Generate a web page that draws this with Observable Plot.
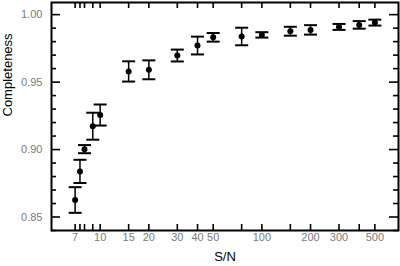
<!DOCTYPE html>
<html>
<head>
<meta charset="utf-8">
<script src="https://cdn.jsdelivr.net/npm/d3@7"></script>
<script src="https://cdn.jsdelivr.net/npm/@observablehq/plot@0.6"></script>
<style>
  html, body { margin: 0; padding: 0; background: #fff; }
  #chart svg { display: block; }
</style>
</head>
<body>
<div id="chart"></div>
<script>
// Data
const snr   = [7, 7.5, 8, 9, 10, 15, 20, 30, 40, 50, 75, 100, 150, 200, 300, 400, 500];
const compl = [0.8626, 0.8838, 0.9003, 0.9173, 0.9256, 0.9579, 0.9591, 0.9697, 0.9771, 0.9832, 0.9838, 0.9850, 0.9877, 0.9887, 0.9909, 0.9924, 0.9941];
const errs  = [0.0095, 0.0086, 0.0030, 0.0100, 0.0078, 0.0075, 0.0070, 0.0044, 0.0066, 0.0032, 0.0065, 0.0020, 0.0033, 0.0035, 0.0022, 0.0028, 0.0022];
const xLabelTicks = [7, 10, 15, 20, 30, 40, 50, 100, 200, 300, 500];
const yMajorTicks = [0.85, 0.90, 0.95, 1.00];
const yMinorTicks = [0.84, 0.86, 0.87, 0.88, 0.89, 0.91, 0.92, 0.93, 0.94, 0.96, 0.97, 0.98, 0.99];

const data = snr.map((s, i) => ({s, c: compl[i], lo: compl[i] - errs[i], hi: compl[i] + errs[i]}));

const W = 400, H = 266, mL = 51, mR = 2, mT = 2, mB = 36;
const innerH = H - mT - mB, innerW = W - mL - mR;

// custom symbol for error-bar caps
const hline = {
  draw(ctx, size) { const r = Math.sqrt(size / Math.PI); ctx.moveTo(-r, 0); ctx.lineTo(r, 0); }
};

const font = "Liberation Sans, Arial, Helvetica, sans-serif";
const gray = "#7a7a7a";
const tw = 1.6;

const chart = Plot.plot({
  width: W,
  height: H,
  marginLeft: mL,
  marginRight: mR,
  marginTop: mT,
  marginBottom: mB,
  style: {fontFamily: font, fontSize: "11px", background: "#fff", color: "#000"},
  x: {type: "log", domain: [5, 700], axis: null},
  y: {domain: [0.84, 1.009], axis: null},
  marks: [
    // inward tick marks
    Plot.ruleX(snr, {x: d => d, insetTop: innerH - 6, stroke: "#000", strokeWidth: tw}),
    Plot.ruleX(snr, {x: d => d, insetBottom: innerH - 6, stroke: "#000", strokeWidth: tw}),
    Plot.ruleY(yMajorTicks, {y: d => d, insetRight: innerW - 9, stroke: "#000", strokeWidth: tw}),
    Plot.ruleY(yMinorTicks, {y: d => d, insetRight: innerW - 5, stroke: "#000", strokeWidth: tw}),
    Plot.ruleY(yMajorTicks, {y: d => d, insetLeft: innerW - 9, stroke: "#000", strokeWidth: tw}),
    Plot.ruleY(yMinorTicks, {y: d => d, insetLeft: innerW - 5, stroke: "#000", strokeWidth: tw}),
    // tick labels
    Plot.text(xLabelTicks, {x: d => d, frameAnchor: "bottom", dy: 10, text: d => String(d), fill: gray, fontSize: 11}),
    Plot.text(yMajorTicks, {y: d => d, frameAnchor: "left", dx: -9, textAnchor: "end", text: d => d.toFixed(2), fill: gray, fontSize: 11}),
    // axis titles
    Plot.text(["S/N"], {frameAnchor: "bottom", dy: 30, fontSize: 13, fill: "#000"}),
    Plot.text(["Completeness"], {frameAnchor: "left", dx: -44, rotate: -90, fontSize: 13, fill: "#000"}),
    // error bars
    Plot.ruleX(data, {x: "s", y1: "lo", y2: "hi", stroke: "#000", strokeWidth: 1.5}),
    Plot.dot(data, {x: "s", y: "lo", symbol: hline, r: 6.5, stroke: "#000", strokeWidth: 2}),
    Plot.dot(data, {x: "s", y: "hi", symbol: hline, r: 6.5, stroke: "#000", strokeWidth: 2}),
    Plot.dot(data, {x: "s", y: "c", r: 3, fill: "#000", stroke: null}),
    Plot.frame({stroke: "#000", strokeWidth: 2})
  ]
});
document.getElementById("chart").appendChild(chart);
</script>
</body>
</html>
